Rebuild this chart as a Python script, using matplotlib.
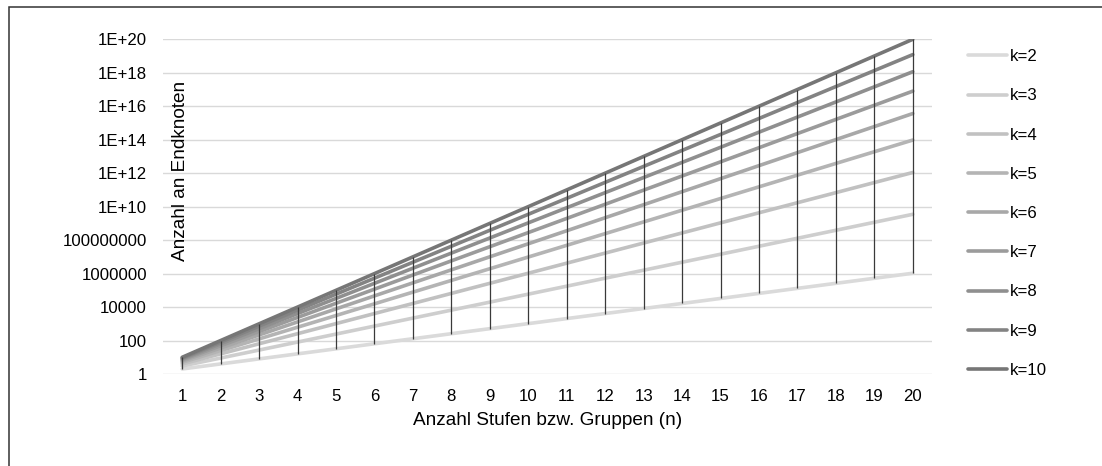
import numpy as np
import matplotlib
matplotlib.use("Agg")
import matplotlib.pyplot as plt
from matplotlib.patches import Rectangle

plt.rcParams['font.family'] = ['Liberation Sans', 'DejaVu Sans']

# ---- data ----
stages = list(range(1, 21))
series_labels = ["k=2", "k=3", "k=4", "k=5", "k=6", "k=7", "k=8", "k=9", "k=10"]
k2 = [2, 4, 8, 16, 32, 64, 128, 256, 512, 1024, 2048, 4096, 8192, 16384, 32768,
      65536, 131072, 262144, 524288, 1048576]
k3 = [3, 9, 27, 81, 243, 729, 2187, 6561, 19683, 59049, 177147, 531441, 1594323,
      4782969, 14348907, 43046721, 129140163, 387420489, 1162261467, 3486784401]
k4 = [4, 16, 64, 256, 1024, 4096, 16384, 65536, 262144, 1048576, 4194304, 16777216,
      67108864, 268435456, 1073741824, 4294967296, 17179869184, 68719476736,
      274877906944, 1099511627776]
k5 = [5, 25, 125, 625, 3125, 15625, 78125, 390625, 1953125, 9765625, 48828125,
      244140625, 1220703125, 6103515625, 30517578125, 152587890625, 762939453125,
      3814697265625, 19073486328125, 95367431640625]
k6 = [6, 36, 216, 1296, 7776, 46656, 279936, 1679616, 10077696, 60466176, 362797056,
      2176782336, 13060694016, 78364164096, 470184984576, 2821109907456,
      16926659444736, 101559956668416, 609359740010496, 3656158440062976]
k7 = [7, 49, 343, 2401, 16807, 117649, 823543, 5764801, 40353607, 282475249,
      1977326743, 13841287201, 96889010407, 678223072849, 4747561509943,
      33232930569601, 232630513987207, 1628413597910449, 11398895185373143,
      79792266297612001]
k8 = [8, 64, 512, 4096, 32768, 262144, 2097152, 16777216, 134217728, 1073741824,
      8589934592, 68719476736, 549755813888, 4398046511104, 35184372088832,
      281474976710656, 2251799813685248, 18014398509481984, 144115188075855872,
      1152921504606846976]
k9 = [9, 81, 729, 6561, 59049, 531441, 4782969, 43046721, 387420489, 3486784401,
      31381059609, 282429536481, 2541865828329, 22876792454961, 205891132094649,
      1853020188851841, 16677181699666569, 150094635296999121,
      1350851717672992089, 12157665459056928801]
k10 = [1e1, 1e2, 1e3, 1e4, 1e5, 1e6, 1e7, 1e8, 1e9, 1e10, 1e11, 1e12, 1e13, 1e14,
       1e15, 1e16, 1e17, 1e18, 1e19, 1e20]
series = [k2, k3, k4, k5, k6, k7, k8, k9, k10]

y_ticks = [1e0, 1e2, 1e4, 1e6, 1e8, 1e10, 1e12, 1e14, 1e16, 1e18, 1e20]
y_tick_labels = ["1", "100", "10000", "1000000", "100000000", "1E+10", "1E+12",
                 "1E+14", "1E+16", "1E+18", "1E+20"]
x_label = "Anzahl Stufen bzw. Gruppen (n)"
y_label = "Anzahl an Endknoten"

colors = ['#dadada', '#cecece', '#c1c1c1', '#b4b4b4', '#a8a8a8',
          '#9b9b9b', '#8f8f8f', '#838383', '#767676']

# ---- figure ----
W, H = 1102, 466
fig = plt.figure(figsize=(W / 100, H / 100), dpi=100)
ax = fig.add_axes([163 / W, 1 - 374 / H, (932 - 163) / W, (374 - 39.3) / H])

fs = 12.1
fs_title = 13.7
handles = []
for vals, lab, c in zip(series, series_labels, colors):
    ln, = ax.plot(stages, np.array(vals, dtype=float), color=c, lw=2.6,
                  solid_capstyle='round', label=lab, zorder=3)
    handles.append(ln)

ax.vlines(stages, np.array(k2, dtype=float), np.array(k10, dtype=float),
          color='#3a3a3a', lw=0.9, zorder=4)

ax.set_yscale('log')
ax.set_ylim(1, 1e20)
ax.set_xlim(0.5, 20.5)
ax.set_yticks(y_ticks)
ax.set_yticklabels(y_tick_labels)
ax.yaxis.set_minor_locator(matplotlib.ticker.NullLocator())
ax.set_xticks(stages)
ax.set_xticklabels([str(s) for s in stages])
ax.tick_params(axis='both', length=0, labelsize=fs, colors='#000000')
ax.tick_params(axis='y', pad=11.5)
ax.tick_params(axis='x', pad=10.5)
ax.grid(axis='y', color='#d9d9d9', lw=1.0, zorder=0)
ax.set_axisbelow(True)
for s in ax.spines.values():
    s.set_visible(False)

fig.text(547.5 / W, 1 - 425 / H, x_label, ha='center', va='baseline',
         fontsize=fs_title)
fig.text(185 / W, 1 - 171 / H, y_label, ha='center', va='baseline',
         rotation=90, rotation_mode='anchor', fontsize=fs_title)

fig.legend(handles=handles, loc='center left',
           bbox_to_anchor=(968 / W, 1 - 213.5 / H), frameon=False,
           fontsize=fs, handlelength=2.34, handletextpad=0.18,
           labelspacing=1.44, borderpad=0, borderaxespad=0)

fig.patches.append(Rectangle((9 / W, -0.1), 1.2, (H - 7) / H + 0.1,
                             transform=fig.transFigure, fill=False,
                             edgecolor='#333333', lw=1.1))

fig.savefig('out.png', dpi=100)
